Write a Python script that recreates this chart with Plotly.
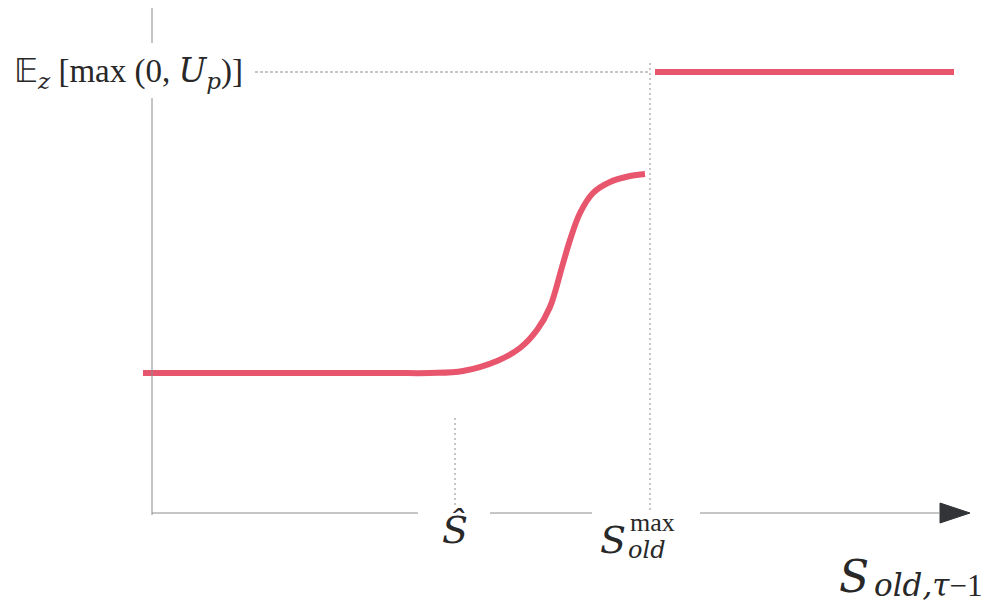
import plotly.graph_objects as go

# Key levels on the horizontal axis
S_HAT = 3.03        # threshold where the curve starts to rise
S_MAX = 4.98        # capacity limit, where the payoff jumps
X_END = 8.02        # end of the upper payoff segment
AXIS_TIP = 8.18     # tip of the horizontal arrow
Y_TOP = 5.05        # top of the vertical axis

# Payoff levels
LOW_LEVEL = 1.40
HIGH_LEVEL = 4.41   # E_z[max(0, U_p)]

# Lower branch: flat, then a smooth rise up to the capacity limit (x, y)
curve_x = [-0.09, 1.50, 2.40, 2.78, 3.11, 3.45, 3.68, 3.85, 3.98, 4.10, 4.18, 4.28, 4.41, 4.58, 4.78, 4.93]
curve_y = [1.40, 1.40, 1.40, 1.40, 1.42, 1.52, 1.65, 1.83, 2.06, 2.46, 2.73, 3.00, 3.20, 3.31, 3.37, 3.39]

# Upper flat branch after the jump
step_x = [5.03, X_END]
step_y = [HIGH_LEVEL, HIGH_LEVEL]

RED = "rgb(232,86,110)"
GREY = "rgb(140,140,140)"
SERIF = "DejaVu Serif"
ROMAN = "Liberation Serif"

fig = go.Figure()

fig.add_trace(go.Scatter(x=curve_x, y=curve_y, mode="lines",
                         line=dict(color=RED, width=6, shape="spline", smoothing=1.0),
                         hoverinfo="skip"))
fig.add_trace(go.Scatter(x=step_x, y=step_y, mode="lines",
                         line=dict(color=RED, width=6), hoverinfo="skip"))

# Arrow head at the end of the horizontal axis
head_len, head_half = 0.30, 0.10
fig.add_trace(go.Scatter(x=[AXIS_TIP - head_len, AXIS_TIP, AXIS_TIP - head_len, AXIS_TIP - head_len],
                         y=[head_half, 0, -head_half, head_half],
                         mode="lines", fill="toself", fillcolor="rgb(50,52,56)",
                         line=dict(color="rgb(50,52,56)", width=1), hoverinfo="skip"))

shapes = []
# Vertical axis, interrupted behind the level label
shapes.append(dict(type="line", x0=0, x1=0, y0=-0.02, y1=4.15, line=dict(color=GREY, width=1)))
shapes.append(dict(type="line", x0=0, x1=0, y0=4.70, y1=Y_TOP, line=dict(color=GREY, width=1)))
# Horizontal axis, interrupted around the tick labels
for x0, x1 in [(0, S_HAT - 0.37), (S_HAT + 0.35, S_MAX - 0.58), (S_MAX + 0.50, AXIS_TIP - head_len)]:
    shapes.append(dict(type="line", x0=x0, x1=x1, y0=0, y1=0, line=dict(color=GREY, width=1)))
# Guide lines
shapes.append(dict(type="line", x0=1.03, x1=S_MAX, y0=HIGH_LEVEL, y1=HIGH_LEVEL,
                   line=dict(color=GREY, width=1, dash="3px,2px")))
shapes.append(dict(type="line", x0=S_MAX, x1=S_MAX, y0=0.03, y1=HIGH_LEVEL + 0.09,
                   line=dict(color=GREY, width=1, dash="2px,3px")))
shapes.append(dict(type="line", x0=S_HAT, x1=S_HAT, y0=0.08, y1=0.98,
                   line=dict(color=GREY, width=1, dash="2px,3px")))

fig.update_layout(shapes=shapes)

txt = "rgb(40,40,40)"


def it(s):
    """Italic math-style span."""
    return f"<span style='font-family:{SERIF};font-style:italic'>{s}</span>"


ann = [
    dict(x=0.93, y=HIGH_LEVEL, xanchor="right", yanchor="middle",
         text=f"𝔼<sub>{it('z')}</sub> [max (0, {it('U')}<sub>{it('p')}</sub>)]",
         font=dict(family=ROMAN, size=33, color=txt)),
    dict(x=S_HAT, y=-0.17, xanchor="center", yanchor="middle",
         text=it("Ŝ"), font=dict(family=SERIF, size=38, color=txt)),
    dict(x=S_MAX - 0.22, y=-0.27, xanchor="right", yanchor="middle",
         text=it("S"), font=dict(family=SERIF, size=38, color=txt)),
    dict(x=S_MAX - 0.22, y=-0.09, xanchor="left", yanchor="middle",
         text="max", font=dict(family=ROMAN, size=26, color=txt)),
    dict(x=S_MAX - 0.24, y=-0.37, xanchor="left", yanchor="middle",
         text=it("old"), font=dict(family=SERIF, size=24, color=txt)),
    dict(x=7.19, y=-0.63, xanchor="right", yanchor="middle",
         text=it("S"), font=dict(family=SERIF, size=44, color=txt)),
    dict(x=7.20, y=-0.72, xanchor="left", yanchor="middle",
         text=it("old,τ") + "−1", font=dict(family=ROMAN, size=31, color=txt)),
]
for a in ann:
    a.update(xref="x", yref="y", showarrow=False)
fig.update_layout(annotations=ann)

fig.update_layout(
    width=989, height=602,
    margin=dict(l=0, r=0, t=0, b=0),
    paper_bgcolor="white", plot_bgcolor="white",
    showlegend=False,
    xaxis=dict(range=[-1.52, 8.37], visible=False, fixedrange=True),
    yaxis=dict(range=[-0.89, 5.13], visible=False, fixedrange=True),
)

fig.write_html("out.html")
